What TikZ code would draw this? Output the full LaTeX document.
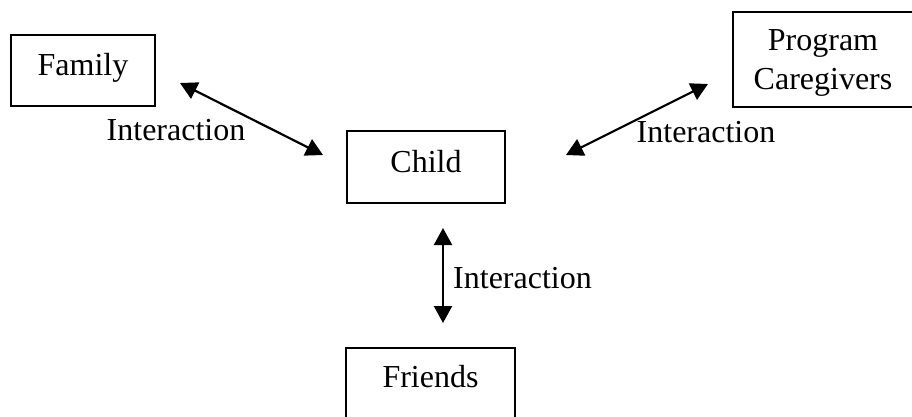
\documentclass[tikz,border=0pt]{standalone}
\usepackage{fontspec}
\setmainfont{Liberation Serif}
\usetikzlibrary{arrows.meta}
\begin{document}
\begin{tikzpicture}[x=1pt,y=-1pt,
  txt/.style={font=\fontsize{32}{39}\selectfont, inner sep=0pt, align=center},
  box/.style={draw, line width=2.2pt, inner sep=0pt},
  conn/.style={line width=2.2pt, {Triangle[length=17pt,width=18pt]}-{Triangle[length=17pt,width=18pt]}}]
\useasboundingbox (0,0) rectangle (912,416);
% boxes
\node[box, minimum width=144pt, minimum height=71pt] (family) at (83,70.5) {};
\node[txt] (familyt) at (83,68) {Family};
\node[box, minimum width=183pt, minimum height=95pt] (prog) at (824.5,59.5) {};
\node[txt] (progt) at (823,63) {Program\\Caregivers};
\node[box, minimum width=158pt, minimum height=72pt] (child) at (426,167) {};
\node[txt] (childt) at (426,162) {Child};
\node[box, minimum width=169pt, minimum height=80pt, anchor=north] (friends) at (430.5,347) {};
\node[txt] (friendst) at (430.5,377) {Friends};
% connector ends
\coordinate (fa) at (180,83);
\coordinate (ca) at (323,155);
\coordinate (cb) at (566,155);
\coordinate (pa) at (708,84);
\coordinate (cc) at (443,228);
\coordinate (fb) at (443,323);
\draw[conn] (fa) -- (ca);
\draw[conn] (cb) -- (pa);
\draw[conn] (cc) -- (fb);
% labels
\node[txt] (l1) at (176,130) {Interaction};
\node[txt] (l2) at (706,132) {Interaction};
\node[txt, anchor=west] (l3) at (453,278) {Interaction};
\end{tikzpicture}
\end{document}
